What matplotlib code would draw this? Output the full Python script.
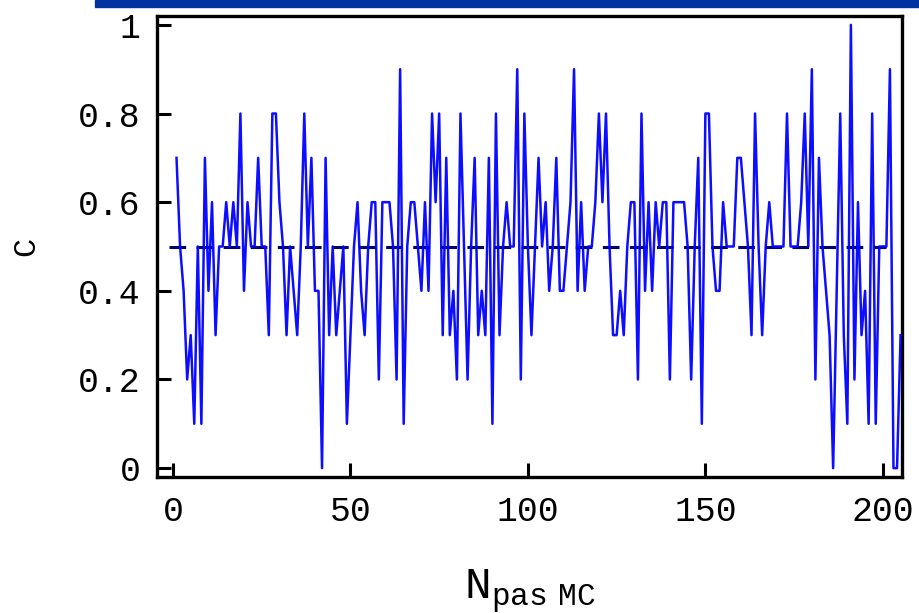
import matplotlib
matplotlib.use("Agg")
import matplotlib.pyplot as plt
from matplotlib.patches import Rectangle

# Data: C value at each Monte-Carlo step
steps = list(range(1, 206))
c_values = [
    0.7, 0.5, 0.4, 0.2, 0.3, 0.1, 0.5, 0.1, 0.7, 0.4,
    0.6, 0.3, 0.5, 0.5, 0.6, 0.5, 0.6, 0.5, 0.8, 0.4,
    0.6, 0.5, 0.5, 0.7, 0.5, 0.5, 0.3, 0.8, 0.8, 0.6,
    0.5, 0.3, 0.5, 0.4, 0.3, 0.5, 0.8, 0.5, 0.7, 0.4,
    0.4, 0.0, 0.7, 0.3, 0.5, 0.3, 0.4, 0.5, 0.1, 0.3,
    0.5, 0.6, 0.4, 0.3, 0.5, 0.6, 0.6, 0.2, 0.6, 0.6,
    0.6, 0.5, 0.2, 0.9, 0.1, 0.5, 0.6, 0.6, 0.5, 0.4,
    0.6, 0.4, 0.8, 0.6, 0.8, 0.3, 0.7, 0.3, 0.4, 0.2,
    0.8, 0.5, 0.2, 0.5, 0.7, 0.3, 0.4, 0.3, 0.7, 0.1,
    0.8, 0.3, 0.5, 0.6, 0.5, 0.5, 0.9, 0.2, 0.8, 0.5,
    0.3, 0.5, 0.7, 0.5, 0.6, 0.4, 0.5, 0.7, 0.4, 0.4,
    0.5, 0.6, 0.9, 0.4, 0.6, 0.4, 0.5, 0.5, 0.6, 0.8,
    0.6, 0.8, 0.5, 0.3, 0.3, 0.4, 0.3, 0.5, 0.6, 0.6,
    0.2, 0.8, 0.4, 0.6, 0.4, 0.6, 0.5, 0.6, 0.6, 0.2,
    0.6, 0.6, 0.6, 0.6, 0.5, 0.2, 0.5, 0.7, 0.1, 0.8,
    0.8, 0.5, 0.4, 0.4, 0.6, 0.5, 0.5, 0.5, 0.7, 0.7,
    0.6, 0.5, 0.3, 0.8, 0.5, 0.3, 0.5, 0.6, 0.5, 0.5,
    0.5, 0.5, 0.8, 0.5, 0.5, 0.5, 0.6, 0.8, 0.5, 0.9,
    0.2, 0.7, 0.5, 0.4, 0.3, 0.0, 0.4, 0.8, 0.3, 0.1,
    1.0, 0.2, 0.6, 0.3, 0.4, 0.1, 0.8, 0.1, 0.5, 0.5,
    0.5, 0.9, 0.0, 0.0, 0.3,
]
mean_x = [-1, 201]
mean_y = [0.5, 0.5]

x_ticks = [0, 50, 100, 150, 200]
y_ticks = [0, 0.2, 0.4, 0.6, 0.8, 1]
y_tick_labels = ["0", "0.2", "0.4", "0.6", "0.8", "1"]

plt.rcParams['mathtext.fontset'] = 'custom'
plt.rcParams['mathtext.rm'] = 'Liberation Mono'
plt.rcParams['lines.scale_dashes'] = False

fig = plt.figure(figsize=(9.19, 6.13), dpi=100)
ax = fig.add_axes([157 / 919, 1 - 477 / 613, (902 - 157) / 919, (477 - 16) / 613])

ax.plot(mean_x, mean_y, color='#000070', lw=2.2, dashes=(12, 7.5), zorder=2)
ax.plot(steps, c_values, color='#0000ff', lw=1.8, zorder=3, alpha=0.95)

ax.set_xlim(-4.5, 205.4)
ax.set_ylim(-0.02, 1.02)

ax.set_xticks(x_ticks)
ax.set_xticklabels([str(t) for t in x_ticks])
ax.set_yticks(y_ticks)
ax.set_yticklabels(y_tick_labels)

mono = 'Liberation Mono'
ax.tick_params(axis='both', direction='in', length=10, width=2.2,
               labelsize=25, colors='black')
ax.tick_params(axis='y', pad=12)
ax.tick_params(axis='x', pad=13)
for lab in ax.get_xticklabels() + ax.get_yticklabels():
    lab.set_fontfamily(mono)

for sp in ax.spines.values():
    sp.set_linewidth(2.4)
    sp.set_color('black')

ax.set_ylabel('C', fontsize=23, family=mono, labelpad=26)
ax.set_xlabel(r'$\mathrm{N}_{\mathrm{pas\ MC}}$', fontsize=32, labelpad=28)

fig.patches.append(Rectangle((95 / 919, 1 - 7 / 613), 1, 7 / 613,
                             transform=fig.transFigure, color='#0033a0',
                             zorder=0))

fig.savefig('out.png', dpi=100)
